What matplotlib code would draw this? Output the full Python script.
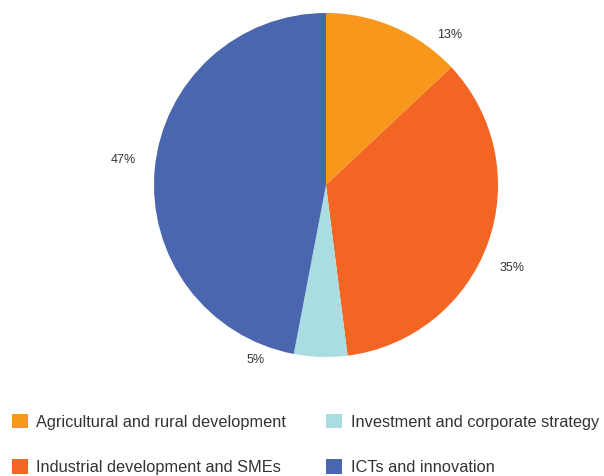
import matplotlib.pyplot as plt

categories = ["Agricultural and rural development", "Industrial development and SMEs",
              "Investment and corporate strategy", "ICTs and innovation"]
shares = [13, 35, 5, 47]
colors = ["#F7981D", "#F26522", "#A9DDE1", "#4A66AF"]
# label positions (in pie-radius units)
label_pos = [(0.72, 0.87), (1.08, -0.48), (-0.41, -1.02), (-1.18, 0.145)]

plt.rcParams['font.family'] = ['Liberation Sans', 'DejaVu Sans']

W, H = 604, 476
fig = plt.figure(figsize=(W / 100, H / 100), dpi=100)
cx, cy, r = 326, 185, 172
ax = fig.add_axes([(cx - r) / W, (H - cy - r) / H, 2 * r / W, 2 * r / H])

wedges, texts, autotexts = ax.pie(shares, colors=colors, startangle=90, counterclock=False,
                                  autopct="%d%%", wedgeprops=dict(linewidth=0),
                                  textprops=dict(fontsize=9, color="#333333"))
for t, (x, y) in zip(autotexts, label_pos):
    t.set_position((x, y))
    t.set_clip_on(False)
ax.set_xlim(-1, 1)
ax.set_ylim(-1, 1)
ax.set_aspect("equal")

leg = fig.legend(wedges, categories, ncol=2, loc="upper left",
                 bbox_to_anchor=(12 / W, 1 - 414 / H), frameon=False,
                 borderaxespad=0, borderpad=0,
                 fontsize=11.8, handlelength=0.98, handleheight=0.98,
                 handletextpad=0.5, labelspacing=1.8, columnspacing=2.45)
for t in leg.get_texts():
    t.set_color("#333333")

fig.savefig("out.png", dpi=100)
